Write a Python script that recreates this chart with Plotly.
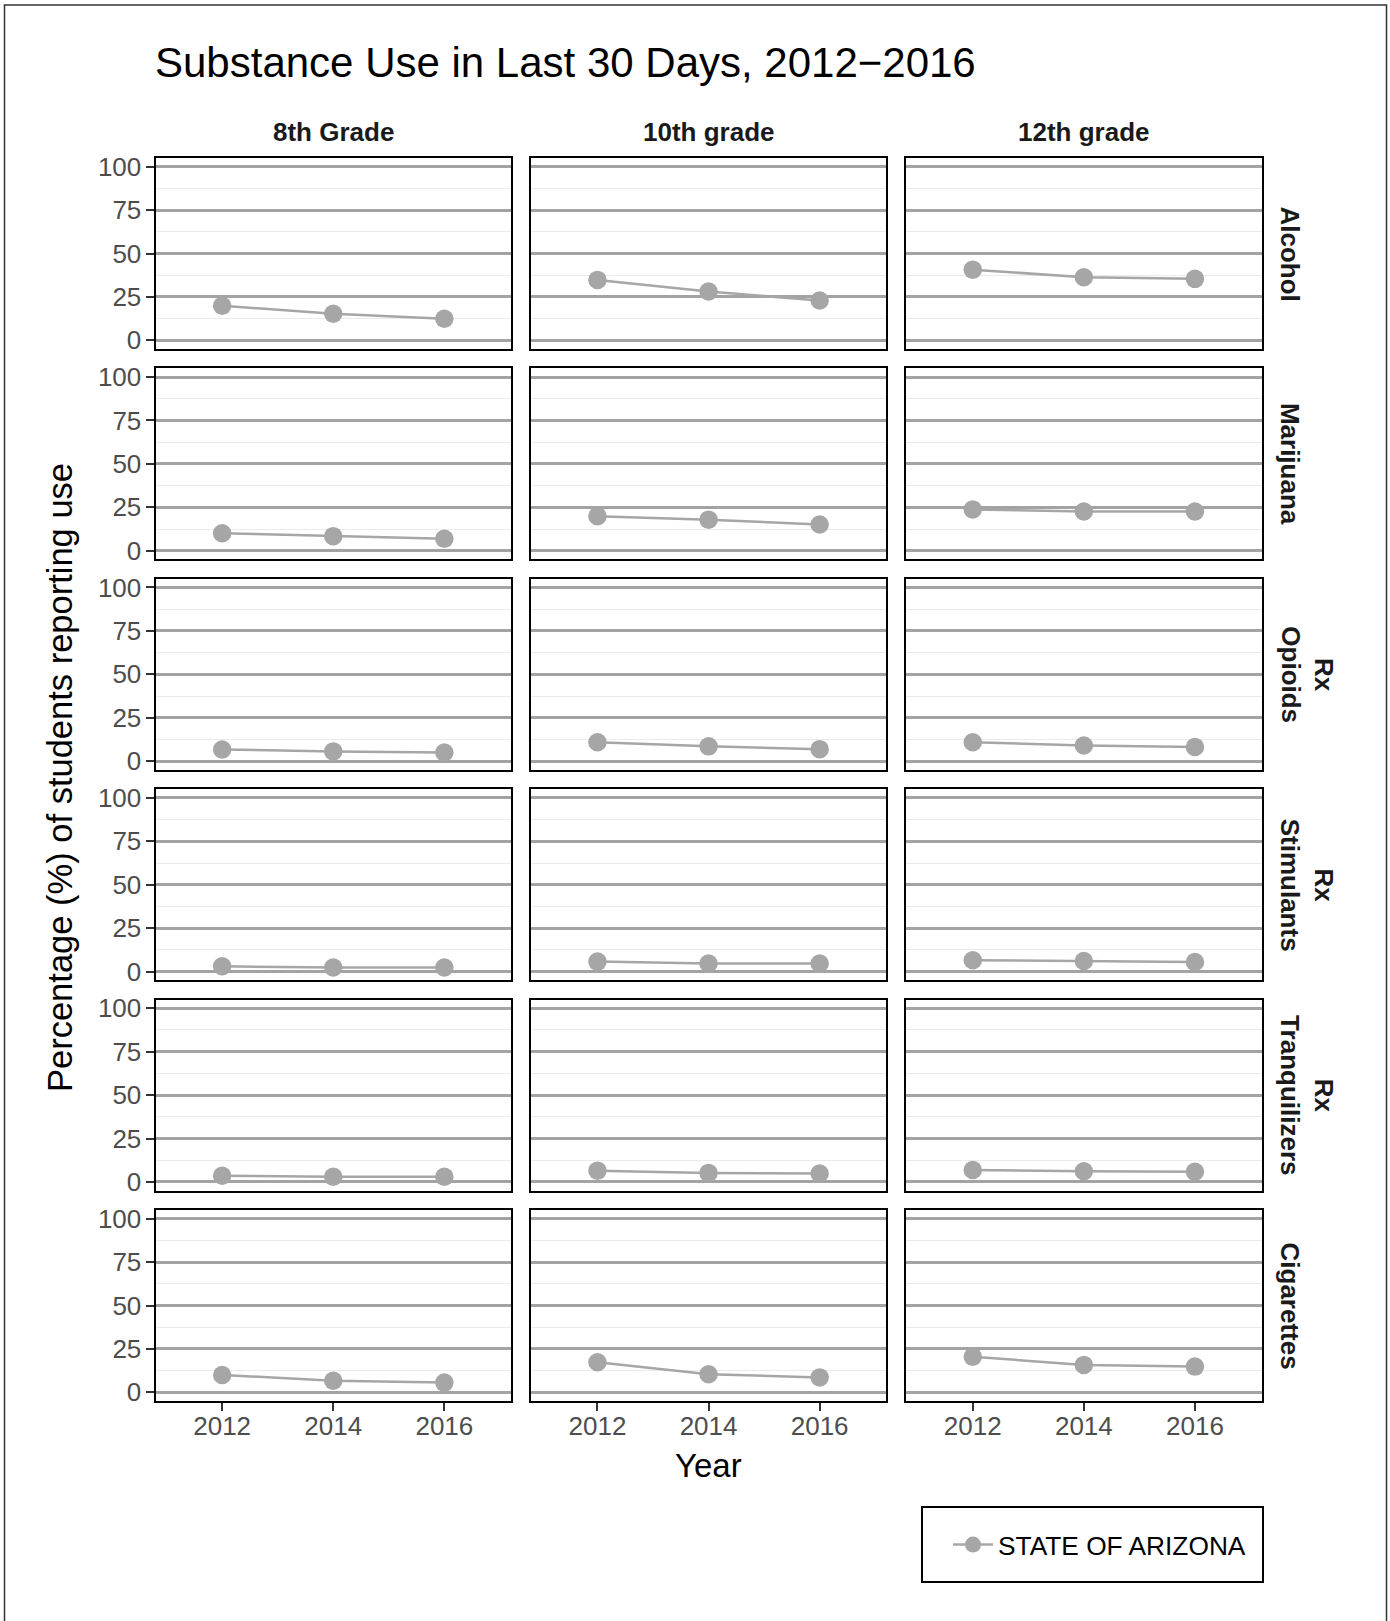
import plotly.graph_objects as go

W, H = 1390, 1621

years = ["2012", "2014", "2016"]
grades = ["8th Grade", "10th grade", "12th grade"]
substances = ["Alcohol", "Marijuana", "Rx<br>Opioids", "Rx<br>Stimulants", "Rx<br>Tranquilizers", "Cigarettes"]

alcohol_8 = [19.9, 15.3, 12.4]
alcohol_10 = [34.8, 28.1, 22.9]
alcohol_12 = [40.7, 36.3, 35.4]
marijuana_8 = [10.1, 8.4, 6.9]
marijuana_10 = [19.9, 17.9, 15.1]
marijuana_12 = [23.8, 22.6, 22.6]
opioids_8 = [6.7, 5.6, 5.0]
opioids_10 = [10.9, 8.5, 6.9]
opioids_12 = [10.9, 9.0, 8.1]
stimulants_8 = [3.0, 2.3, 2.3]
stimulants_10 = [5.7, 4.6, 4.6]
stimulants_12 = [6.5, 6.1, 5.5]
tranq_8 = [3.6, 3.0, 3.0]
tranq_10 = [6.5, 5.2, 4.8]
tranq_12 = [6.9, 6.1, 5.9]
cig_8 = [10.0, 6.7, 5.6]
cig_10 = [17.3, 10.4, 8.6]
cig_12 = [20.5, 15.8, 14.8]

values = [
    [alcohol_8, alcohol_10, alcohol_12],
    [marijuana_8, marijuana_10, marijuana_12],
    [opioids_8, opioids_10, opioids_12],
    [stimulants_8, stimulants_10, stimulants_12],
    [tranq_8, tranq_10, tranq_12],
    [cig_8, cig_10, cig_12],
]

y_ticks = [0, 25, 50, 75, 100]
y_minor = [12.5, 37.5, 62.5, 87.5]

FONT = "Liberation Sans"
GRAY = "#a6a6a6"
GRID = "#a3a3a3"

col_left = [155.5, 530.8, 906.1]
col_w = 355.5
row_top0 = 158.0
row_pitch = 210.4
row_h = 191.0


def px_x(v):
    return v / W


def px_y(v):
    return 1 - v / H


fig = go.Figure()
layout = {}
for r in range(6):
    for c in range(3):
        k = r * 3 + c + 1
        xa = "xaxis" if k == 1 else f"xaxis{k}"
        ya = "yaxis" if k == 1 else f"yaxis{k}"
        xref = "x" if k == 1 else f"x{k}"
        yref = "y" if k == 1 else f"y{k}"
        x0 = col_left[c]
        top = row_top0 + r * row_pitch
        bottom = top + row_h
        bottom_row = r == 5
        left_col = c == 0
        layout[xa] = dict(
            domain=[px_x(x0), px_x(x0 + col_w)],
            anchor=yref,
            type="category",
            categoryorder="array",
            categoryarray=years,
            range=[-0.6, 2.6],
            showgrid=False,
            zeroline=False,
            showline=True,
            mirror=True,
            linecolor="black",
            linewidth=2,
            ticks="outside" if bottom_row else "",
            ticklen=8,
            tickwidth=2,
            tickcolor="#333333",
            showticklabels=bottom_row,
            ticklabelstandoff=-7,
            automargin=False,
            tickfont=dict(family=FONT, size=26, color="#4d4d4d"),
        )
        layout[ya] = dict(
            domain=[px_y(bottom), px_y(top)],
            anchor=xref,
            range=[-5, 105],
            tickvals=y_ticks,
            showgrid=True,
            gridcolor=GRID,
            gridwidth=2.5,
            minor=dict(tickvals=y_minor, showgrid=True, gridcolor="#ebebeb", gridwidth=1.2, ticks=""),
            zeroline=False,
            showline=True,
            mirror=True,
            linecolor="black",
            linewidth=2,
            ticks="outside" if left_col else "",
            ticklen=8,
            tickwidth=2,
            tickcolor="#333333",
            showticklabels=left_col,
            ticklabelstandoff=-1,
            automargin=False,
            tickfont=dict(family=FONT, size=26, color="#4d4d4d"),
        )
        fig.add_trace(go.Scatter(
            x=years, y=values[r][c], xaxis=xref, yaxis=yref,
            mode="lines+markers",
            line=dict(color=GRAY, width=2.5),
            marker=dict(color=GRAY, size=18.5),
            name="STATE OF ARIZONA",
            showlegend=(k == 1),
            hoverinfo="skip",
        ))

annotations = []
# column strip labels
for c, g in enumerate(grades):
    annotations.append(dict(
        text=f"<b>{g}</b>", x=px_x(col_left[c] + col_w / 2), y=px_y(132),
        xref="paper", yref="paper", xanchor="center", yanchor="middle",
        showarrow=False, font=dict(family=FONT, size=26, color="#1a1a1a"),
    ))
# row strip labels
for r, s in enumerate(substances):
    top = row_top0 + r * row_pitch
    annotations.append(dict(
        text=f"<b>{s}</b>", x=px_x(1273), y=px_y(top + row_h / 2),
        xref="paper", yref="paper", xanchor="left", yanchor="middle",
        textangle=90, showarrow=False,
        font=dict(family=FONT, size=26, color="#1a1a1a"),
    ))
# title
annotations.append(dict(
    text="Substance Use in Last 30 Days, 2012\u22122016", x=px_x(153), y=px_y(62),
    xref="paper", yref="paper", xanchor="left", yanchor="middle",
    showarrow=False, font=dict(family=FONT, size=42, color="black"),
))
# axis titles
annotations.append(dict(
    text="Year", x=px_x(col_left[1] + col_w / 2), y=px_y(1465),
    xref="paper", yref="paper", xanchor="center", yanchor="middle",
    showarrow=False, font=dict(family=FONT, size=33, color="black"),
))
annotations.append(dict(
    text="Percentage (%) of students reporting use", x=px_x(60), y=px_y(778),
    xref="paper", yref="paper", xanchor="center", yanchor="middle",
    textangle=-90, showarrow=False, font=dict(family=FONT, size=34.5, color="black"),
))

bx0, bx1, by_top = px_x(4.5), px_x(1386.5), px_y(5)
shapes = [
    dict(type="path", xref="paper", yref="paper",
         path=f"M {bx0},0 L {bx0},{by_top} L {bx1},{by_top} L {bx1},0",
         line=dict(color="#333333", width=1.5)),
    dict(type="rect", xref="paper", yref="paper", x0=px_x(922), x1=px_x(1263),
         y0=px_y(1582), y1=px_y(1507), line=dict(color="black", width=2)),
]

fig.update_layout(
    width=W, height=H,
    margin=dict(l=0, r=0, t=0, b=0, pad=0, autoexpand=False),
    paper_bgcolor="white", plot_bgcolor="white",
    annotations=annotations,
    shapes=shapes,
    showlegend=True,
    legend=dict(
        x=px_x(948), y=px_y(1545), xanchor="left", yanchor="middle",
        bgcolor="rgba(0,0,0,0)", borderwidth=0, itemwidth=40,
        font=dict(family=FONT, size=26.3, color="black"),
    ),
    **layout,
)

fig.write_html("out.html")
